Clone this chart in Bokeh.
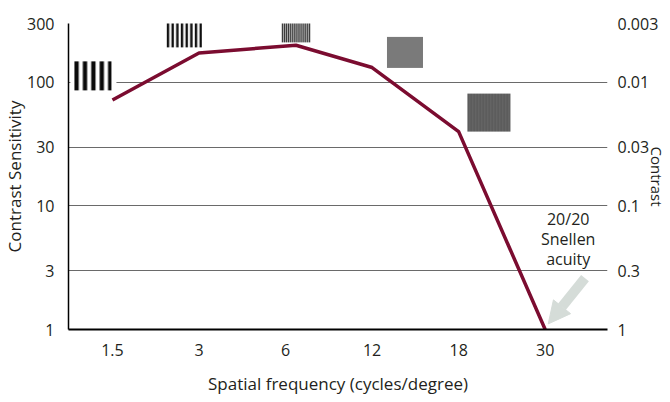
import numpy as np
from bokeh.plotting import figure
from bokeh.models import (Range1d, FixedTicker, LogAxis, Arrow, NormalHead,
                          CustomJSTickFormatter)
from bokeh.embed import file_html
from bokeh.resources import INLINE
from bokeh.core.properties import value

# ---- data ----
freq_labels = ["1.5", "3", "6", "12", "18", "30"]
freq_pos = [0, 1, 2, 3, 4, 5]
line_x = [0, 1, 2.12, 3, 4, 5]
sensitivity = [72, 173, 200, 132, 40, 1]
sens_ticks = [1, 3, 10, 30, 100, 300]
sens_labels = ["1", "3", "10", "30", "100", "300"]
contrast_labels = ["1", "0.3", "0.1", "0.03", "0.01", "0.003"]

# decorative grating thumbnails (x index, sensitivity value)
grating_x = [-0.22, 0.83, 2.13, 3.38, 4.35]
grating_y = [114, 254, 279, 175, 57]

FONT = "Open Sans"
TXT = "#231f20"
RED = "#7b0c30"
ARROW = "#d5dcd8"


def rgba_img(rgb):
    h, w, _ = rgb.shape
    img = np.empty((h, w), dtype=np.uint32)
    v = img.view(dtype=np.uint8).reshape((h, w, 4))
    v[:, :, :3] = np.clip(rgb, 0, 255).astype(np.uint8)
    v[:, :, 3] = 255
    return img


def grating(box_w, box_h, w, h, period, bar, fg, bg=255):
    rgb = np.full((box_h, box_w, 3), 255.0)
    cov = np.zeros(w)
    ss = 20
    for i in range(w):
        xs = i + (np.arange(ss) + 0.5) / ss
        cov[i] = np.mean((xs % period) < bar)
    col = fg * cov + bg * (1 - cov)
    x0 = (box_w - w) // 2
    y0 = (box_h - h) // 2
    rgb[y0:y0 + h, x0:x0 + w, :] = col[None, :, None]
    return rgba_img(rgb)


g1 = grating(46, 42, 37, 29, 8.4, 4.3, 10)
g2 = grating(49, 40, 35, 30, 4.67, 2.4, 15)
g3 = grating(48, 40, 29, 29, 1.93, 1.2, 30)
g4 = rgba_img(np.full((31, 36, 3), 122.0))
g5 = grating(43, 38, 43, 38, 3.0, 1.5, 88, bg=104)
imgs = [g1, g2, g3, g4, g5]

p = figure(width=670, height=402, y_axis_type="log",
           x_range=Range1d(-0.508, 5.72), y_range=Range1d(1, 300),
           output_backend="svg", toolbar_location=None,
           min_border_left=66, min_border_right=62, min_border_top=23,
           min_border_bottom=73)
p.outline_line_color = None
p.background_fill_color = "white"
p.border_fill_color = "white"

# grid
p.xgrid.visible = False
p.ygrid.grid_line_color = "#6a6a6a"
p.ygrid.grid_line_width = 1
p.yaxis.ticker = FixedTicker(ticks=sens_ticks, minor_ticks=[])

fmt_left = CustomJSTickFormatter(args=dict(vals=sens_ticks, labels=sens_labels),
                                 code="return labels[vals.indexOf(tick)];")
fmt_right = CustomJSTickFormatter(args=dict(vals=sens_ticks, labels=contrast_labels),
                                  code="return labels[vals.indexOf(tick)];")
fmt_x = CustomJSTickFormatter(args=dict(vals=freq_pos, labels=freq_labels),
                              code="return labels[vals.indexOf(tick)];")

ax = p.yaxis[0]
ax.formatter = fmt_left
ax.axis_line_color = "black"
ax.axis_line_width = 1.5
ax.major_tick_line_color = None
ax.minor_tick_line_color = None
ax.major_label_standoff = 8
ax.major_label_text_font = FONT
ax.major_label_text_font_size = "16px"
ax.major_label_text_color = TXT
ax.axis_label = "Contrast Sensitivity"
ax.axis_label_standoff = -2
ax.axis_label_text_font = FONT
ax.axis_label_text_font_size = "17px"
ax.axis_label_text_font_style = "normal"
ax.axis_label_text_color = TXT

ax = p.xaxis[0]
ax.ticker = FixedTicker(ticks=freq_pos, minor_ticks=[])
ax.formatter = fmt_x
ax.axis_line_color = "black"
ax.axis_line_width = 2
ax.major_tick_line_color = None
ax.minor_tick_line_color = None
ax.major_label_standoff = 8
ax.major_label_text_font = FONT
ax.major_label_text_font_size = "16px"
ax.major_label_text_color = TXT
ax.axis_label = "Spatial frequency (cycles/degree)"
ax.axis_label_standoff = 13
ax.axis_label_text_font = FONT
ax.axis_label_text_font_size = "17px"
ax.axis_label_text_font_style = "normal"
ax.axis_label_text_color = TXT

rax = LogAxis(ticker=FixedTicker(ticks=sens_ticks, minor_ticks=[]), formatter=fmt_right)
rax.axis_line_color = None
rax.major_tick_line_color = None
rax.minor_tick_line_color = None
rax.major_label_standoff = 4
rax.major_label_text_font = FONT
rax.major_label_text_font_size = "16px"
rax.major_label_text_color = TXT
rax.axis_label = "Contrast"
rax.axis_label_standoff = -14
rax.axis_label_text_font = FONT
rax.axis_label_text_font_size = "15px"
rax.axis_label_text_font_style = "normal"
rax.axis_label_text_color = TXT
p.add_layout(rax, "right")

# grating thumbnails
p.image_rgba(image=imgs, x=grating_x, y=grating_y,
             dw=[im.shape[1] for im in imgs], dh=[im.shape[0] for im in imgs],
             dw_units="screen", dh_units="screen", anchor="center")

# curve
p.line(line_x, sensitivity, line_color=RED, line_width=3.5, line_join="round")

# Snellen annotation
p.text(x=[5.266], y=[5.4], text=["20/20\nSnellen\nacuity"],
       text_font=value(FONT), text_font_size="16px", text_color=TXT,
       text_align="center", text_baseline="middle", text_line_height=0.9)
p.add_layout(Arrow(end=NormalHead(size=22, fill_color=ARROW, line_color=ARROW),
                   x_start=5.46, y_start=2.6, x_end=5.035, y_end=1.11,
                   line_color=ARROW, line_width=10))

open("out.html", "w").write(file_html(p, INLINE))
